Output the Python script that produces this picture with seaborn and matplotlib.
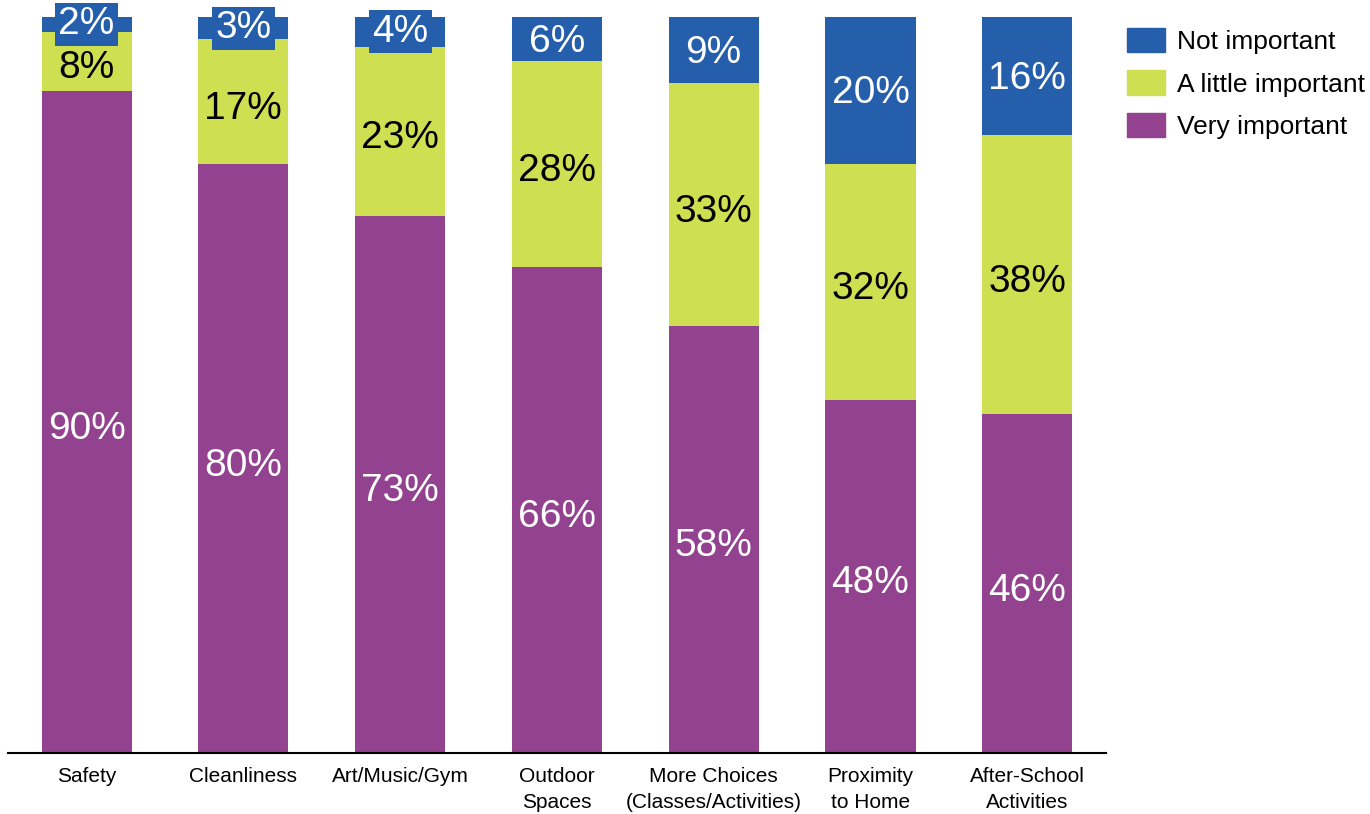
import numpy as np
import pandas as pd
import seaborn as sns
import matplotlib.pyplot as plt
import matplotlib.transforms as mtransforms
from matplotlib.patches import Patch

categories = ["Safety", "Cleanliness", "Art/Music/Gym", "Outdoor\nSpaces",
              "More Choices\n(Classes/Activities)", "Proximity\nto Home",
              "After-School\nActivities"]
very_important = [90, 80, 73, 66, 58, 48, 46]
little_important = [8, 17, 23, 28, 33, 32, 38]
not_important = [2, 3, 4, 6, 9, 20, 16]

purple = "#92428E"
green = "#CFDF52"
blue = "#255EAB"

sns.set_theme(style="white")
plt.rcParams['font.family'] = ['Liberation Sans', 'DejaVu Sans']

df = pd.DataFrame({
    "category": categories,
    "very": very_important,
    "little": little_important,
    "not": not_important,
})
df["cum_little"] = df["very"] + df["little"]
df["cum_not"] = df["cum_little"] + df["not"]

fig = plt.figure(figsize=(13.7, 8.14), dpi=100)
ax = fig.add_axes([0.006, 0.075, 0.801, 0.904])

# layered bars give the stacked look
for col, c in [("cum_not", blue), ("cum_little", green), ("very", purple)]:
    sns.barplot(data=df, x="category", y=col, color=c, width=0.575,
                saturation=1, linewidth=0, ax=ax)

# nudge labels down a little so they sit optically centred
down = mtransforms.offset_copy(ax.transData, fig=fig, y=-5, units="points")
down_small = mtransforms.offset_copy(ax.transData, fig=fig, y=-2, units="points")

for i, row in df.iterrows():
    ax.text(i, row["very"] / 2, f"{row['very']}%", ha="center", va="center",
            color="white", fontsize=28, transform=down)
    ax.text(i, row["very"] + row["little"] / 2, f"{row['little']}%",
            ha="center", va="center", color="black", fontsize=28,
            transform=down)
    # tiny segments get a blue box behind the label, like the original
    if row["not"] < 5:
        ax.text(i, row["cum_little"] + row["not"] / 2, f"{row['not']}%",
                ha="center", va="center", color="white", fontsize=28,
                bbox=dict(facecolor=blue, edgecolor="none", pad=2.5))
    else:
        ax.text(i, row["cum_little"] + row["not"] / 2, f"{row['not']}%",
                ha="center", va="center", color="white", fontsize=28,
                transform=down_small)

ax.set_xlim(-0.5, 6.5)
ax.set_ylim(0, 100)
ax.set_xlabel("")
ax.set_ylabel("")
ax.set_yticks([])
ax.tick_params(axis="x", labelsize=15, labelcolor="black", length=0, pad=10)
for lbl in ax.get_xticklabels():
    lbl.set_linespacing(1.45)
for s in ["left", "right", "top"]:
    ax.spines[s].set_visible(False)
ax.spines["bottom"].set_color("black")
ax.spines["bottom"].set_linewidth(1.5)

handles = [Patch(color=blue, label="Not important"),
           Patch(color=green, label="A little important"),
           Patch(color=purple, label="Very important")]
fig.legend(handles=handles, loc="upper left", bbox_to_anchor=(0.8226, 0.966),
           frameon=False, fontsize=19, handlelength=1.45, handleheight=1.05,
           handletextpad=0.45, labelspacing=0.62, borderaxespad=0,
           borderpad=0, labelcolor="black")

fig.savefig("out.png", dpi=100)
